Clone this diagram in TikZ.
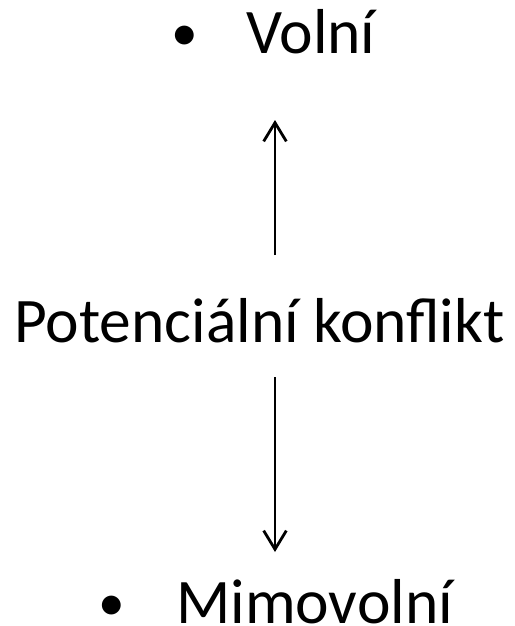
\documentclass[tikz,border=0pt]{standalone}
\usepackage{fontspec}
\setmainfont{Carlito}
\usetikzlibrary{arrows.meta}
\begin{document}
\begin{tikzpicture}[x=0.75pt,y=0.75pt,yscale=-1,xscale=1,
	label text/.style={anchor=base west,inner sep=0pt,font=\fontsize{47.6}{56}\selectfont},
	bullet text/.style={anchor=base,inner sep=0pt,font=\fontsize{40}{48}\selectfont},
	pointer/.style={line width=2.1pt,-{Straight Barb[length=14pt,width=17pt,line width=2.1pt]}}]
		\useasboundingbox (0,0) rectangle (515,626);

		% Text Node
		\node [bullet text] (bulletUp) at (185,50) {•};
		\node [label text] (volni) at (246,53) {Volní};
		% Text Node
		\node [label text] (konflikt) at (14,342) {Potenciální konflikt};
		% Text Node
		\node [bullet text] (bulletDown) at (112,620) {•};
		\node [label text] (mimovolni) at (176,623) {Mimovolní};

		%Straight Lines
		\coordinate (upStart) at (275,255);
		\coordinate (upEnd) at (275,120);
		\draw [pointer] (upStart) -- (upEnd);
		%Straight Lines
		\coordinate (downStart) at (275,377);
		\coordinate (downEnd) at (275,552);
		\draw [pointer] (downStart) -- (downEnd);
	\end{tikzpicture}
\end{document}
